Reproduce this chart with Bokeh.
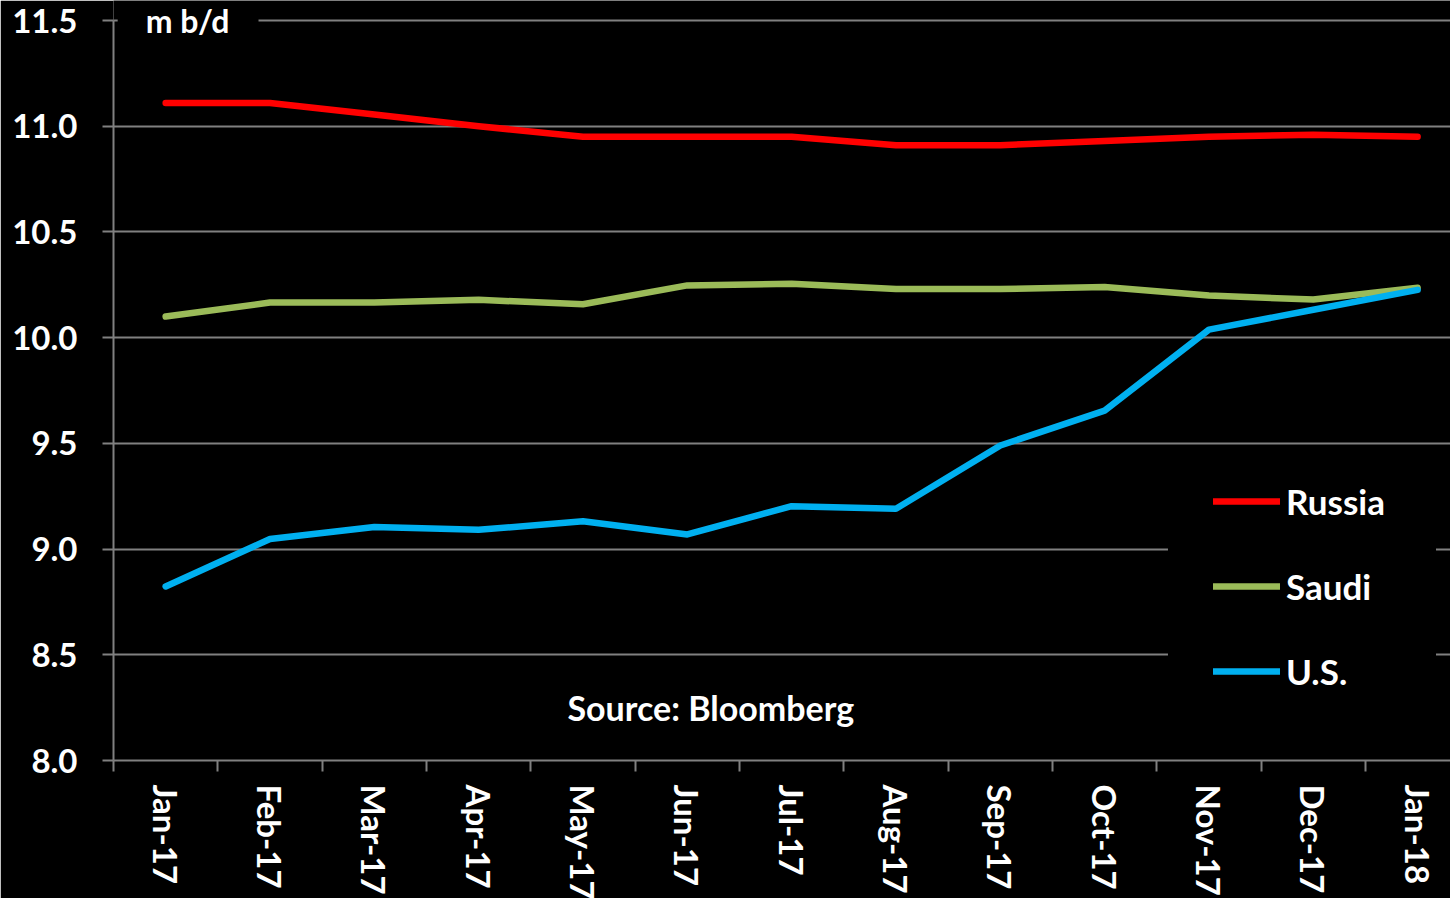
import math
from bokeh.plotting import figure
from bokeh.models import (Range1d, FixedTicker, NumeralTickFormatter, Legend, LegendItem,
                          Label, BoxAnnotation)
from bokeh.embed import file_html
from bokeh.resources import INLINE

months = ["Jan-17", "Feb-17", "Mar-17", "Apr-17", "May-17", "Jun-17", "Jul-17",
          "Aug-17", "Sep-17", "Oct-17", "Nov-17", "Dec-17", "Jan-18"]
russia = [11.11, 11.11, 11.055, 11.00, 10.95, 10.95, 10.95, 10.91, 10.91, 10.93, 10.95, 10.96, 10.95]
saudi = [10.10, 10.166, 10.166, 10.179, 10.158, 10.247, 10.255, 10.23, 10.23, 10.239, 10.199, 10.18, 10.236]
us = [8.823, 9.048, 9.104, 9.091, 9.132, 9.069, 9.203, 9.191, 9.49, 9.655, 10.038, 10.132, 10.226]
y_ticks = [8.0, 8.5, 9.0, 9.5, 10.0, 10.5, 11.0, 11.5]

FONT = "Lato"
GRID = "#808080"
xs = list(range(len(months)))

p = figure(frame_width=1337, frame_height=760, output_backend="svg", toolbar_location=None,
           x_range=Range1d(-0.5, 12.315), y_range=Range1d(8.0, 11.5 + 20 / 211.43),
           min_border_left=113, min_border_right=0, min_border_top=0, min_border_bottom=130,
           background_fill_color="black", border_fill_color="black", outline_line_color=None)

# axes
p.xaxis.ticker = FixedTicker(ticks=xs, minor_ticks=[i - 0.5 for i in range(len(months) + 1)])
p.xaxis.major_label_overrides = {i: m for i, m in enumerate(months)}
p.xaxis.major_label_orientation = -math.pi / 2
p.xaxis.major_tick_out = 0
p.xaxis.major_tick_in = 0
p.xaxis.minor_tick_out = 11
p.xaxis.minor_tick_in = 0
p.xaxis.minor_tick_line_color = GRID
p.xaxis.minor_tick_line_width = 2
p.xaxis.major_label_standoff = 13
p.xaxis.axis_line_color = GRID
p.xaxis.axis_line_width = 2
p.xaxis.major_label_text_color = "white"
p.xaxis.major_label_text_font = FONT
p.xaxis.major_label_text_font_style = "bold"
p.xaxis.major_label_text_font_size = "33px"

p.yaxis.ticker = FixedTicker(ticks=y_ticks)
p.yaxis.bounds = (8.0, 11.5)
p.yaxis.formatter = NumeralTickFormatter(format="0.0")
p.yaxis.major_tick_out = 11
p.yaxis.major_tick_in = 0
p.yaxis.minor_tick_line_color = None
p.yaxis.major_tick_line_color = GRID
p.yaxis.major_tick_line_width = 2
p.yaxis.axis_line_color = GRID
p.yaxis.axis_line_width = 2
p.yaxis.major_label_standoff = 25
p.yaxis.major_label_text_color = "white"
p.yaxis.major_label_text_font = FONT
p.yaxis.major_label_text_font_style = "bold"
p.yaxis.major_label_text_font_size = "33px"

p.xgrid.grid_line_color = None
p.ygrid.ticker = FixedTicker(ticks=y_ticks)
p.ygrid.grid_line_color = GRID
p.ygrid.grid_line_width = 2

r1 = p.line(xs, russia, line_color="#FF0000", line_width=6.5, line_cap="round", line_join="round")
r2 = p.line(xs, saudi, line_color="#9BBB59", line_width=6.5, line_cap="round", line_join="round")
r3 = p.line(xs, us, line_color="#00B0F0", line_width=6.5, line_cap="round", line_join="round")

# black patches hiding gridlines behind the legend and the unit label
p.add_layout(BoxAnnotation(left=9.607, right=12.176, top=9.372, bottom=8.284,
                           fill_color="black", fill_alpha=1.0, line_alpha=0))
p.add_layout(BoxAnnotation(left=-0.46, right=0.89, top=11.53, bottom=11.47,
                           fill_color="black", fill_alpha=1.0, line_alpha=0))

legend = Legend(items=[LegendItem(label="Russia", renderers=[r1]),
                       LegendItem(label="Saudi", renderers=[r2]),
                       LegendItem(label="U.S.", renderers=[r3])],
                location=(1100, 68), orientation="vertical",
                background_fill_alpha=0, border_line_color=None,
                glyph_width=67, glyph_height=40, label_height=40, label_standoff=6,
                padding=0, spacing=43, margin=0,
                label_text_color="white", label_text_font=FONT,
                label_text_font_style="bold", label_text_font_size="35px")
p.add_layout(legend)

p.add_layout(Label(x=0.21, y=11.5, text="m b/d", text_align="center", text_baseline="middle",
                   text_color="white", text_font=FONT, text_font_style="bold",
                   text_font_size="32px"))

p.add_layout(Label(x=5.225, y=8.25, text="Source: Bloomberg", text_align="center",
                   text_baseline="middle", text_color="white", text_font=FONT,
                   text_font_style="bold", text_font_size="34px"))

open("out.html", "w").write(file_html(p, INLINE))
